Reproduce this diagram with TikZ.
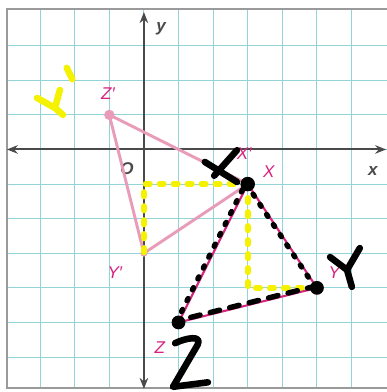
\documentclass[tikz,border=0pt]{standalone}
\usepackage{fontspec}
\setmainfont{Liberation Sans}
\usetikzlibrary{arrows.meta}
\definecolor{gridc}{HTML}{92D4D8}
\definecolor{axisc}{HTML}{4A4A4A}
\definecolor{magc}{HTML}{D8237E}
\definecolor{lpink}{HTML}{E99CB9}
\definecolor{yel}{HTML}{F5F200}
\definecolor{bord}{HTML}{9A9A9A}
\tikzset{
  gridline/.style={gridc, line width=0.8pt},
  axisline/.style={axisc, line width=1.6pt, {Stealth[length=9pt,width=7pt]}-{Stealth[length=9pt,width=7pt]}},
  axlabel/.style={text=axisc, font=\bfseries\itshape\fontsize{14}{16}\selectfont, inner sep=0pt},
  ptlabel/.style={text=magc, font=\itshape\fontsize{14}{16}\selectfont, inner sep=0pt},
  triorig/.style={magc, line width=1.7pt, line join=round},
  triimg/.style={lpink, line width=2.4pt, line join=round},
  yeldash/.style={yel, line width=4.8pt, dash pattern=on 3.5pt off 8pt, line cap=round},
  blkdot/.style={black, line width=4.4pt, dash pattern=on 2pt off 8pt, line cap=round},
  blkdash/.style={black, line width=4.4pt, dash pattern=on 8pt off 8.5pt, line cap=round},
  hand/.style={line width=5.4pt, line cap=round, line join=round},
}
\begin{document}
\begin{tikzpicture}
\useasboundingbox (-4.16,-7.01) rectangle (7.02,4.32);
\fill[white] (-4.16,-7.01) rectangle (7.02,4.32);
% grid
\foreach \x in {-3,...,6} \draw[gridline] (\x,-6.89) -- (\x,4.06);
\foreach \y in {-6,...,3} \draw[gridline] (-3.96,\y) -- (7.02,\y);
% border
\draw[bord, line width=1.2pt] (7.02,4.06) -- (-3.96,4.06) -- (-3.96,-6.89) -- (7.02,-6.89);
% points
\coordinate (X) at (3,-1);
\coordinate (Y) at (5,-4);
\coordinate (Z) at (1,-5);
\coordinate (Yp) at (0,-3);
\coordinate (Zp) at (-1,1);
\coordinate (A) at (0,-1);
\coordinate (B) at (3,-4);
% axes
\coordinate (xl) at (-3.96,0);
\coordinate (xr) at (7.0,0);
\coordinate (yt) at (0,3.97);
\coordinate (yb) at (0,-6.92);
\draw[axisline] (xl) -- (xr);
\draw[axisline] (yb) -- (yt);
\node[axlabel] (ylab) at (0.5,3.5) {y};
\node[axlabel] (xlab) at (6.62,-0.62) {x};
\node[axlabel] (olab) at (-0.49,-0.55) {O};
% image triangle
\draw[triimg] (X) -- (Yp) -- (Zp) -- cycle;
\fill[lpink] (Zp) circle (0.15);
\fill[lpink] (Yp) circle (0.1);
% yellow construction
\draw[yeldash] (X) -- (A) -- (Yp);
\draw[yeldash] (X) -- (B) -- (Y);
% original triangle
\draw[triorig] (X) -- (Y) -- (Z) -- cycle;
\fill[magc] (X) circle (0.16);
% pink labels
\node[ptlabel] (lZp) at (-1.04,1.62) {Z′};
\node[ptlabel] (lYp) at (-0.84,-3.57) {Y′};
\node[ptlabel] (lX) at (3.61,-0.65) {X};
\node[ptlabel] (lXp) at (2.9,-0.12) {X′};
\node[ptlabel] (lY) at (5.5,-3.55) {Y};
\node[ptlabel] (lZ) at (0.46,-5.72) {Z};
% black hand overlay (slightly off the printed sides, as drawn by hand)
\draw[blkdot] ([xshift=-0.04cm]X) -- ([xshift=-0.04cm]Y);
\draw[blkdash] ([yshift=0.06cm]Y) -- ([yshift=0.06cm]Z);
\draw[blkdot] ([xshift=-0.07cm]Z) -- ([xshift=-0.07cm]X);
\fill[black] (X) circle (0.21);
\fill[black] (Y) circle (0.2);
\fill[black] (Z) circle (0.2);
% handwritten black X
\draw[hand, black] (1.76,-0.36) -- (2.69,-0.94);
\draw[hand, black] (2.69,-0.02) -- (2.03,-0.76);
% handwritten black Y
\draw[hand, black] (5.38,-3.11) .. controls (5.6,-3.3) .. (5.87,-3.48) -- (6.01,-3.97);
\draw[hand, black] (6.24,-2.85) -- (5.87,-3.48);
% handwritten black Z
\draw[hand, black] (0.9,-5.6) .. controls (1.2,-5.45) and (1.7,-5.35) .. (1.55,-5.65) -- (0.84,-6.86) -- (1.85,-6.73);
% handwritten yellow Y'
\draw[hand, yel] (-3.09,1.49) -- (-2.57,1.2) -- (-2.34,1.0);
\draw[hand, yel] (-2.43,1.72) -- (-2.57,1.2);
\draw[hand, yel] (-2.23,2.36) -- (-2.07,2.03);
\end{tikzpicture}
\end{document}
